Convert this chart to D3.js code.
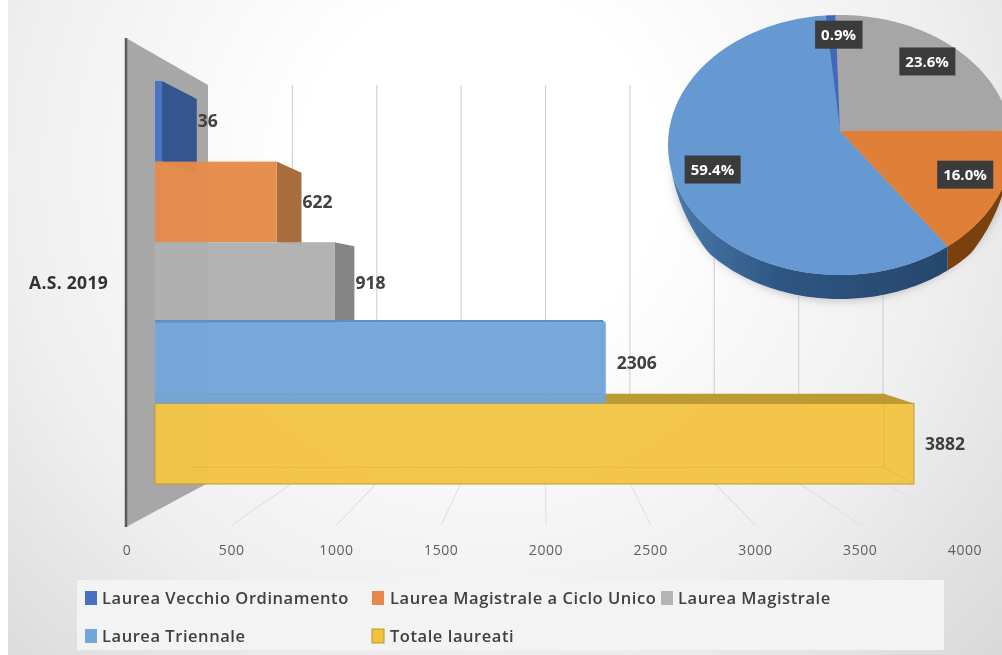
<!DOCTYPE html>
<html lang="it">
<head>
    <meta charset="utf-8" />
    <title>Laureati A.S. 2019</title>
    <script src="https://d3js.org/d3.v7.min.js"></script>
    <style>
        html, body { margin: 0; padding: 0; background: #fff; }
        svg { display: block; }
        text { font-family: "Open Sans", sans-serif; }
    </style>
</head>
<body>
    <script>
        // data
        var series = ["Laurea Vecchio Ordinamento", "Laurea Magistrale a Ciclo Unico", "Laurea Magistrale", "Laurea Triennale", "Totale laureati"];
        var values = [36, 622, 918, 2306, 3882];
        var ticks = [0, 500, 1000, 1500, 2000, 2500, 3000, 3500, 4000];
        var category = "A.S. 2019";
        var pieOrder = ["Laurea Magistrale", "Laurea Magistrale a Ciclo Unico", "Laurea Triennale", "Laurea Vecchio Ordinamento"];

        var w = 1002, h = 655;
        var total = values[4];
        var valueOf = function (name) { return values[series.indexOf(name)]; };

        var front = ["#4472c4", "#e58a4b", "#b0b0b0", "#72a5d8", "#f3c544"];
        var side = ["#34558f", "#a96d3e", "#858585", "#5b8fc4", "#bd9a30"];

        var svg = d3.select("body").append("svg").attr("width", w).attr("height", h);
        var defs = svg.append("defs");

        var bg = defs.append("radialGradient").attr("id", "bg")
            .attr("gradientUnits", "userSpaceOnUse")
            .attr("cx", 480).attr("cy", 170).attr("r", 720);
        bg.append("stop").attr("offset", "0.25").attr("stop-color", "#ffffff");
        bg.append("stop").attr("offset", "0.65").attr("stop-color", "#efeff0");
        bg.append("stop").attr("offset", "1").attr("stop-color", "#d8d8d9");

        var soft = defs.append("filter").attr("id", "soft");
        soft.append("feGaussianBlur").attr("stdDeviation", 0.7);
        var softText = defs.append("filter").attr("id", "softText");
        softText.append("feGaussianBlur").attr("stdDeviation", 0.35);
        var halo = defs.append("filter").attr("id", "halo")
            .attr("x", "-20%").attr("y", "-20%").attr("width", "140%").attr("height", "140%");
        halo.append("feGaussianBlur").attr("stdDeviation", 5);

        var rimSide = defs.append("linearGradient").attr("id", "rimSide")
            .attr("x1", 0).attr("x2", 1).attr("y1", 0).attr("y2", 0);
        rimSide.append("stop").attr("offset", 0).attr("stop-color", "#4a7cae");
        rimSide.append("stop").attr("offset", 0.4).attr("stop-color", "#2e5683");
        rimSide.append("stop").attr("offset", 1).attr("stop-color", "#27466d");

        svg.append("rect").attr("x", 8).attr("y", 0).attr("width", w - 8).attr("height", h).attr("fill", "url(#bg)");

        // the 3D box: same domain on the floor front edge, the back wall and the bars' front plane
        var xFloor = d3.scaleLinear().domain([0, 4000]).range([127, 965]);
        var xBack = d3.scaleLinear().domain([0, 4000]).range([208, 883]);
        var xBar = d3.scaleLinear().domain([0, 4000]).range([155, 937]);
        var yBar = d3.scaleBand().domain(series).range([81, 484]);
        var wallTop = 85, floorBack = 483, floorFront = 525;

        // bars recede toward this point
        var vp = [566, 290], depth = 0.086;
        var back = function (p) {
            return [p[0] + (vp[0] - p[0]) * depth, p[1] + (vp[1] - p[1]) * depth];
        };
        var poly = function (pts) { return "M" + pts.join("L") + "Z"; };

        var plot = svg.append("g").attr("filter", "url(#soft)");

        // wall
        plot.append("path")
            .attr("d", poly([[126, 38], [208, wallTop], [208, floorBack], [126, 527]]))
            .attr("fill", "#a7a7a7");
        plot.append("line").attr("x1", 126).attr("x2", 126).attr("y1", 38).attr("y2", 527)
            .attr("stroke", "#5a5a5a").attr("stroke-width", 2.5);

        // gridlines, back wall and floor
        var gridTicks = ticks.slice(1);
        plot.selectAll(".grid").data(gridTicks).enter().append("line")
            .attr("x1", xBack).attr("x2", xBack)
            .attr("y1", wallTop).attr("y2", floorBack)
            .attr("stroke", "#d4d4d4").attr("stroke-width", 1.2);
        plot.selectAll(".floor").data(gridTicks).enter().append("line")
            .attr("x1", xBack).attr("x2", xFloor)
            .attr("y1", floorBack).attr("y2", floorFront)
            .attr("stroke", "#e2e2e2").attr("stroke-width", 1.2);

        // bars: yellow goes before the light blue one, its top face runs behind it
        var drawOrder = [0, 1, 2, 4, 3];
        var bars = plot.selectAll(".bar").data(drawOrder).enter().append("g").attr("class", "bar");

        bars.each(function (i) {
            var g = d3.select(this);
            var x0 = xBar(0), x1 = xBar(values[i]);
            var y0 = yBar(series[i]), y1 = y0 + yBar.bandwidth();
            var tr = [x1, y0], br = [x1, y1];
            var btr = back(tr), bbr = back(br);

            // top face, only there when the bar sits below the vanishing point
            if (btr[1] < y0) {
                g.append("path").attr("d", poly([[x0, y0], tr, btr, [x0, btr[1]]])).attr("fill", side[i]);
            }
            // right side, only there when the back edge is further right
            if (btr[0] > x1) {
                g.append("path").attr("d", poly([tr, btr, bbr, br])).attr("fill", side[i]);
            }
            g.append("rect")
                .attr("x", x0).attr("y", y0)
                .attr("width", x1 - x0).attr("height", y1 - y0)
                .attr("fill", front[i]).attr("fill-opacity", 0.96)
                .attr("stroke", i === 4 ? side[i] : "none");
            // inner edges of the yellow box show through
            if (btr[0] < x1) {
                g.append("path").attr("d", "M" + btr + "L" + bbr + "L" + br + "M" + bbr + "L" + back([x0, y1]))
                    .attr("fill", "none").attr("stroke", side[i]).attr("stroke-opacity", 0.25);
            }
        });

        // value labels
        svg.selectAll(".val").data(values).enter().append("text")
            .attr("x", function (d) {
                var x1 = xBar(d), bx = back([x1, 0])[0];
                return bx > x1 ? bx + 1 : x1 + 11;
            })
            .attr("y", function (d, i) { return yBar(series[i]) + yBar.bandwidth() / 2; })
            .attr("dy", "0.35em")
            .attr("font-size", 17.5).attr("font-weight", 700).attr("fill", "#404040")
            .attr("filter", "url(#softText)")
            .text(function (d) { return d; });

        svg.append("text").attr("x", 108).attr("y", 283).attr("dy", "0.35em")
            .attr("text-anchor", "end")
            .attr("font-size", 17.5).attr("font-weight", 700).attr("letter-spacing", 0.3).attr("fill", "#333")
            .attr("filter", "url(#softText)")
            .text(category);

        // axis labels
        svg.selectAll(".tick").data(ticks).enter().append("text")
            .attr("x", xFloor).attr("y", 550).attr("dy", "0.35em")
            .attr("text-anchor", "middle")
            .attr("font-size", 14).attr("letter-spacing", 0.6).attr("fill", "#5f5f5f")
            .attr("filter", "url(#softText)")
            .text(function (d) { return d; });

        // pie, tilted: apex sits a bit above the centre of the rim ellipse
        var cx = 840, cy = 145, rx = 172, ry = 130, apexY = 131, thick = 24;
        var rim = function (a) { return [cx + rx * Math.sin(a), cy - ry * Math.cos(a)]; };
        // the edge gets thinner toward the left and right tips
        var edge = function (a) {
            return thick * Math.max(0, Math.min(1, (Math.abs(Math.cos(a)) - 0.2) / 0.45));
        };
        var pieColor = { "Laurea Magistrale": "#a6a6a6", "Laurea Magistrale a Ciclo Unico": "#e07f38", "Laurea Triennale": "#6699d1", "Laurea Vecchio Ordinamento": "#4169bd" };
        var sideColor = { "Laurea Magistrale a Ciclo Unico": "#7a3f10", "Laurea Triennale": "url(#rimSide)", "Laurea Vecchio Ordinamento": "#2f5084", "Laurea Magistrale": "#777" };

        var start = -1.5 * Math.PI / 180;
        var slices = d3.pie().sort(null).startAngle(start).endAngle(start + 2 * Math.PI)
            .value(function (d) { return valueOf(d); })(pieOrder);

        var sweep = function (a0, a1) {
            var n = Math.max(2, Math.ceil((a1 - a0) / 0.02));
            return d3.range(n + 1).map(function (k) { return a0 + (a1 - a0) * k / n; });
        };
        var path = d3.line();

        var pieG = svg.append("g").attr("filter", "url(#soft)");
        pieG.append("ellipse").attr("cx", cx).attr("cy", cy + thick + 1).attr("rx", rx - 6).attr("ry", ry + 1)
            .attr("fill", "#8f8f8f").attr("fill-opacity", 0.5).attr("filter", "url(#halo)");

        slices.forEach(function (s) {
            var a0 = Math.max(s.startAngle, Math.PI / 2), a1 = Math.min(s.endAngle, 3 * Math.PI / 2);
            if (a1 <= a0) return;
            var angles = sweep(a0, a1);
            var top = angles.map(rim);
            var low = angles.slice().reverse().map(function (a) {
                var p = rim(a);
                return [p[0], p[1] + edge(a)];
            });
            pieG.append("path").attr("d", path(top.concat(low)) + "Z").attr("fill", sideColor[s.data]);
        });
        slices.forEach(function (s) {
            var pts = [[cx, apexY]].concat(sweep(s.startAngle, s.endAngle).map(rim));
            pieG.append("path").attr("d", path(pts) + "Z").attr("fill", pieColor[s.data]);
        });

        // percent labels sit along the slice's mid radius
        var nudge = { "Laurea Magistrale": [-1, -4], "Laurea Magistrale a Ciclo Unico": [1, -6], "Laurea Triennale": [-3, -10], "Laurea Vecchio Ordinamento": [6, -6] };
        slices.forEach(function (s) {
            var p = rim((s.startAngle + s.endAngle) / 2);
            var lx = cx + (p[0] - cx) * 0.78 + nudge[s.data][0];
            var ly = apexY + (p[1] - apexY) * 0.78 + nudge[s.data][1];
            var g = svg.append("g");
            var t = g.append("text").attr("x", lx).attr("y", ly).attr("dy", "0.35em")
                .attr("text-anchor", "middle")
                .attr("font-size", 15).attr("font-weight", 700).attr("fill", "#fff")
                .attr("filter", "url(#softText)")
                .text(d3.format(".1%")(valueOf(s.data) / total));
            var b = t.node().getBBox();
            g.insert("rect", "text")
                .attr("x", b.x - 6).attr("y", ly - 14)
                .attr("width", b.width + 12).attr("height", 28)
                .attr("fill", "#3b3b3c");
        });

        // legend
        var legendX = [85, 372, 661], legendTextX = [102, 390, 678];
        var legendRow = [598, 636];
        var legendCol = [0, 1, 2, 0, 1], legendLine = [0, 0, 0, 1, 1];
        var legendFill = ["#4a6fc0", "#e58a4b", "#b4b4b4", "#72a5d8", "#f0c338"];
        svg.append("rect").attr("x", 77).attr("y", 580).attr("width", 867).attr("height", 70)
            .attr("fill", "#f3f3f3").attr("filter", "url(#soft)");
        var items = svg.selectAll(".item").data(series).enter().append("g").attr("class", "item");
        items.append("rect")
            .attr("x", function (d, i) { return legendX[legendCol[i]]; })
            .attr("y", function (d, i) { return legendRow[legendLine[i]] - 7; })
            .attr("width", 12).attr("height", 14)
            .attr("fill", function (d, i) { return legendFill[i]; })
            .attr("stroke", function (d, i) { return i === 4 ? "#b8962b" : "none"; })
            .attr("filter", "url(#softText)");
        items.append("text")
            .attr("x", function (d, i) { return legendTextX[legendCol[i]]; })
            .attr("y", function (d, i) { return legendRow[legendLine[i]]; })
            .attr("dy", "0.35em")
            .attr("font-size", 16.5).attr("font-weight", 600).attr("letter-spacing", 0.55).attr("fill", "#404040")
            .attr("filter", "url(#softText)")
            .text(function (d) { return d; });
    </script>
</body>
</html>
